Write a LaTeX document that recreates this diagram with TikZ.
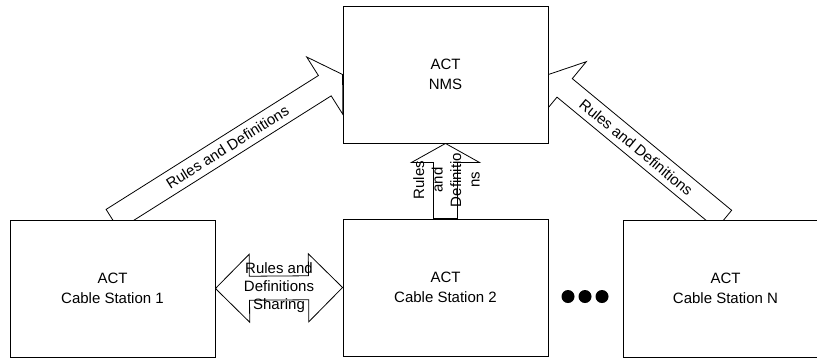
\documentclass[tikz,border=0pt]{standalone}
\usepackage{fontspec}
\setmainfont{Liberation Sans}
\usetikzlibrary{calc, backgrounds}

% block arrow from #1 (tail) to #2 (tip), head length #3
\newcommand{\blockarrow}[3]{%
    \coordinate (hb) at ($(#2)!#3!(#1)$);
    \draw[arrowline] ($(#1)!12pt!90:(#2)$) -- ($(hb)!12pt!90:(#2)$) -- ($(hb)!34pt!90:(#2)$) -- (#2)
        -- ($(hb)!34pt!-90:(#2)$) -- ($(hb)!12pt!-90:(#2)$) -- ($(#1)!12pt!-90:(#2)$) -- cycle;
}
% block arrow with a head at both ends
\newcommand{\shareblockarrow}[3]{%
    \coordinate (hl) at ($(#1)!#3!(#2)$);
    \coordinate (hr) at ($(#2)!#3!(#1)$);
    \draw[arrowline] (#1) -- ($(hl)!34pt!90:(#2)$) -- ($(hl)!12pt!90:(#2)$) -- ($(hr)!12pt!-90:(#1)$)
        -- ($(hr)!34pt!-90:(#1)$) -- (#2) -- ($(hr)!34pt!90:(#1)$) -- ($(hr)!12pt!90:(#1)$)
        -- ($(hl)!12pt!-90:(#2)$) -- ($(hl)!34pt!-90:(#2)$) -- cycle;
}

\begin{document}
\begin{tikzpicture}[x=1pt, y=-1pt,
    station/.style={rectangle, draw=black, line width=0.9pt, fill=white, minimum width=205pt, minimum height=137pt, align=center, font=\fontsize{15}{20}\selectfont},
    arrowline/.style={draw=black, line width=0.8pt, line join=miter},
    arrowtext/.style={font=\fontsize{15}{18.5}\selectfont, align=center, inner sep=0pt}]
    \useasboundingbox (0, 0) rectangle (817, 357);

    \node[station] (nms) at (445.5, 74.5) {ACT\\NMS};
    \node[station] (cs1) at (112.5, 288.5) {ACT\\Cable Station 1};
    \node[station] (cs2) at (445.5, 287.5) {ACT\\Cable Station 2};
    \node[station] (csn) at (725.5, 288.5) {ACT\\Cable Station N};

    \node[circle, fill=black, inner sep=0pt, minimum size=13pt] (dot1) at (568, 296.5) {};
    \node[circle, fill=black, inner sep=0pt, minimum size=13pt] (dot2) at (585, 296.5) {};
    \node[circle, fill=black, inner sep=0pt, minimum size=13pt] (dot3) at (602, 296.5) {};

    \begin{scope}[on background layer]
        \blockarrow{cs1.north}{nms.west}{21pt}
        \blockarrow{csn.north -| 724, 0}{nms.east}{21pt}
        \blockarrow{cs2.north}{nms.south}{19pt}
        \shareblockarrow{cs1.east}{cs2.west}{34pt}
    \end{scope}

    \path (cs1.north) -- (nms.west) node[arrowtext, midway, sloped] (ruleLeft) {Rules and Definitions};
    \path (724, 220) -- (nms.east) node[arrowtext, midway, sloped] (ruleRight) {Rules and Definitions};
    \node[arrowtext, rotate=90] (ruleUp) at (446.5, 180) {Rules\\and\\Definitio\\ns};
    \node[arrowtext, font=\fontsize{15}{18}\selectfont] (ruleShare) at (279, 288) {Rules and\\Definitions\\Sharing};
\end{tikzpicture}
\end{document}
